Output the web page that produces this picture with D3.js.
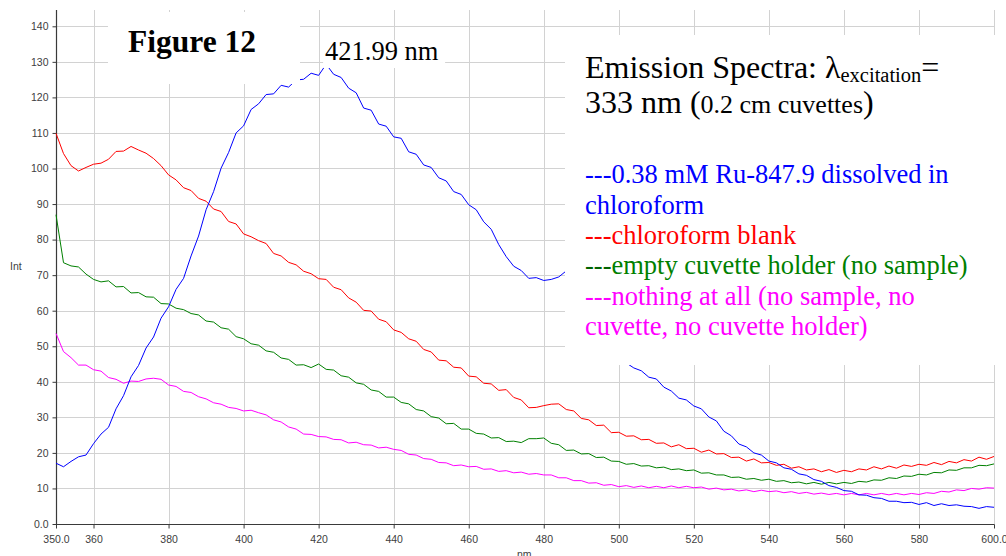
<!DOCTYPE html>
<html>
<head>
<meta charset="utf-8">
<script src="https://cdn.jsdelivr.net/npm/d3@7"></script>
<style>
  html, body { margin: 0; padding: 0; background: #fff; }
  svg { display: block; }
</style>
</head>
<body>
<svg id="chart" width="1006" height="556"></svg>
<script>
// Emission wavelengths (nm), 2 nm steps
const wavelengths = [
  350,352,354,356,358,360,362,364,366,368,
  370,372,374,376,378,380,382,384,386,388,
  390,392,394,396,398,400,402,404,406,408,
  410,412,414,416,418,420,422,424,426,428,
  430,432,434,436,438,440,442,444,446,448,
  450,452,454,456,458,460,462,464,466,468,
  470,472,474,476,478,480,482,484,486,488,
  490,492,494,496,498,500,502,504,506,508,
  510,512,514,516,518,520,522,524,526,528,
  530,532,534,536,538,540,542,544,546,548,
  550,552,554,556,558,560,562,564,566,568,
  570,572,574,576,578,580,582,584,586,588,
  590,592,594,596,598,600
];

// 0.38 mM Ru-847.9 in chloroform (null where the trace is not recorded on screen)
const ruSample = [
  17.1,16.1,17.6,18.9,19.4,22.6,25.3,27.2,32.4,36.1,
  41.4,44.6,49.5,52.6,57.9,61.1,66.0,69.1,75.4,81.0,
  88.4,93.5,100.1,104.5,110.0,112.0,116.6,118.2,120.8,121.0,
  123.4,122.9,124.9,125.1,126.8,126.2,129.3,126.5,125.6,122.6,
  121.3,117.0,116.4,112.5,111.9,108.9,108.5,104.7,104.0,101.0,
  100.3,97.4,96.5,93.5,92.7,89.8,88.4,85.0,82.9,78.6,
  75.2,72.5,71.3,69.1,69.3,68.5,68.8,69.5,71.2,null,
  null,null,null,null,null,null,45.3,43.9,43.1,41.3,
  40.8,38.5,37.4,35.4,34.9,33.2,32.4,30.1,29.0,26.1,
  24.8,22.5,21.7,20.0,19.4,17.7,17.2,15.8,15.4,14.1,
  13.7,12.5,12.0,10.8,10.3,9.4,9.2,8.2,8.1,7.4,
  7.2,6.4,6.4,6.0,6.1,5.5,6.0,5.2,5.7,5.2,
  5.4,5.0,4.9,4.4,4.9,4.7
];

// chloroform blank
const chloroformBlank = [
  109.9,104.2,100.8,99.3,100.3,101.2,101.5,102.6,104.8,104.9,
  106.2,105.2,104.3,102.8,100.8,98.2,96.8,94.6,93.8,91.6,
  90.8,88.6,87.9,85.1,84.4,81.6,80.8,79.7,78.9,76.1,
  75.4,73.6,72.9,71.1,70.4,69.0,68.8,66.6,65.9,63.6,
  62.4,60.1,59.9,57.6,56.9,54.6,53.9,52.1,51.4,49.1,
  48.4,46.1,45.9,44.1,43.9,41.6,41.4,39.6,39.4,37.6,
  37.8,35.6,34.9,32.7,32.8,33.3,33.7,33.8,32.2,31.8,
  29.7,29.3,27.7,27.8,25.7,25.8,24.7,24.8,23.7,23.8,
  22.7,22.8,21.7,22.3,21.2,21.3,20.2,20.8,19.7,19.8,
  18.7,18.8,17.7,18.3,17.2,17.3,16.5,16.8,15.7,16.1,
  15.2,15.5,14.7,15.3,14.5,15.1,14.7,15.5,15.2,16.1,
  15.5,16.3,15.7,16.6,16.2,16.8,16.5,17.3,16.7,17.6,
  17.2,18.1,17.7,18.8,18.2,19.0
];

// empty cuvette holder (no sample)
const emptyHolder = [
  87.0,73.5,72.6,72.3,70.3,68.8,68.1,68.4,66.7,66.8,
  65.0,65.1,63.9,63.8,62.0,61.9,60.7,60.3,59.2,58.8,
  57.1,56.8,55.2,54.8,52.7,52.1,50.7,50.3,48.7,48.3,
  46.7,46.3,44.7,44.8,44.0,45.0,43.5,43.3,41.7,41.3,
  39.7,39.3,37.7,37.3,35.7,35.7,34.2,33.8,32.2,31.8,
  30.2,29.8,28.2,28.3,26.7,26.7,25.5,25.3,24.2,24.3,
  23.2,23.3,22.9,24.0,24.0,24.2,22.7,22.3,20.7,20.8,
  19.7,19.8,18.7,18.8,17.7,17.6,16.8,17.0,16.3,16.4,
  15.8,16.0,15.3,15.5,15.0,15.2,14.3,14.4,13.8,13.8,
  13.1,13.2,12.6,12.8,12.3,12.6,12.0,12.2,11.6,11.8,
  11.3,11.7,11.2,11.7,11.3,11.7,11.4,12.0,11.8,12.4,
  12.3,13.0,12.8,13.5,13.4,14.0,13.8,14.5,14.4,15.2,
  15.1,15.8,15.8,16.5,16.4,16.9
];

// nothing at all (no sample, no cuvette, no cuvette holder)
const nothingAtAll = [
  53.6,48.5,46.8,44.7,44.7,43.4,43.0,41.2,40.7,39.6,
  40.2,40.1,40.8,41.0,40.7,39.1,38.7,37.3,37.0,35.8,
  35.2,34.1,33.7,32.8,32.5,31.8,32.0,31.3,30.7,29.3,
  28.7,27.3,26.7,25.3,25.2,24.6,24.5,23.8,23.7,22.8,
  23.0,22.3,22.2,21.4,21.6,21.0,20.7,19.6,19.4,18.4,
  18.2,17.3,17.2,16.4,16.6,16.1,16.2,15.4,15.5,14.8,
  15.0,14.4,14.6,14.0,14.2,13.8,13.8,13.0,13.0,12.2,
  12.2,11.5,11.6,10.9,11.1,10.5,10.8,10.3,10.7,10.2,
  10.6,10.2,10.7,10.2,10.6,10.2,10.4,9.8,10.1,9.6,
  9.8,9.3,9.6,9.1,9.5,9.1,9.3,8.8,9.1,8.6,
  8.9,8.4,8.7,8.3,8.6,8.2,8.6,8.2,8.6,8.2,
  8.6,8.2,8.6,8.2,8.6,8.3,8.8,8.6,9.2,9.0,
  9.6,9.4,10.0,9.8,10.2,10.1
];

const seriesNames = ["ruSample", "chloroformBlank", "emptyHolder", "nothingAtAll"];
const seriesColors = ["#0000ff", "#ff0000", "#008000", "#ff00ff"];

// Axis ticks
const yTicks = [0,10,20,30,40,50,60,70,80,90,100,110,120,130,140];
const yTickLabels = ["0.0","10","20","30","40","50","60","70","80","90","100","110","120","130","140"];
const xTicks = [350,360,380,400,420,440,460,480,500,520,540,560,580,600];
const xTickLabels = ["350.0","360","380","400","420","440","460","480","500","520","540","560","580","600.0"];
const xGrid = [360,380,400,420,440,460,480,500,520,540,560,580,600];

const peakNm = 421.99;

const legendLines = [
  [{t: "---0.38 mM Ru-847.9 dissolved in", c: "#0000ff"}],
  [{t: "chloroform", c: "#0000ff"}],
  [{t: "---chloroform blank", c: "#ff0000"}],
  [{t: "---", c: "#006400"}, {t: "empty cuvette holder (no sample)", c: "#008000"}],
  [{t: "---nothing at all (no sample, no", c: "#ff00ff"}],
  [{t: "cuvette, no cuvette holder)", c: "#ff00ff"}]
];

// ---------------------------------------------------------------
const svg = d3.select("#chart");
const W = 1006, H = 556;
const plot = {left: 56, right: 994, top: 10, bottom: 524};

const x = d3.scaleLinear().domain([350, 600]).range([plot.left, plot.right]);
const y = d3.scaleLinear().domain([0, 140]).range([plot.bottom, plot.bottom - 140 * 3.555]);

svg.append("rect").attr("width", W).attr("height", H).attr("fill", "#fff");

// grid
const grid = svg.append("g").attr("stroke", "#d2d2d2").attr("stroke-width", 1).attr("shape-rendering", "crispEdges");
grid.selectAll("line.h").data(yTicks.slice(1)).join("line")
  .attr("x1", plot.left).attr("x2", plot.right)
  .attr("y1", d => Math.round(y(d)) + 0.5).attr("y2", d => Math.round(y(d)) + 0.5);
grid.selectAll("line.v").data(xGrid).join("line")
  .attr("x1", d => Math.round(x(d)) + 0.5).attr("x2", d => Math.round(x(d)) + 0.5)
  .attr("y1", plot.top).attr("y2", plot.bottom);

// axes
const axisColor = "#3a3a3a";
const yAxis = d3.axisLeft(y).tickValues(yTicks).tickFormat((d, i) => yTickLabels[i]).tickSize(4).tickPadding(4);
const xAxis = d3.axisBottom(x).tickValues(xTicks).tickFormat((d, i) => xTickLabels[i]).tickSize(4).tickPadding(7);

const gy = svg.append("g").attr("transform", `translate(${plot.left + 0.5},0)`).call(yAxis);
gy.select(".domain").attr("d", `M0,${plot.top}V${plot.bottom + 0.5}`);
const gx = svg.append("g").attr("transform", `translate(0,${plot.bottom + 0.5})`).call(xAxis);
gx.select(".domain").attr("d", `M${plot.left},0H${plot.right + 0.5}`);

[gx, gy].forEach(g => {
  g.select(".domain").attr("stroke", axisColor).attr("stroke-width", 1.2);
  g.selectAll(".tick line").attr("stroke", axisColor);
  g.selectAll(".tick text").attr("fill", "#404040")
    .style("font-family", "'Liberation Sans', Arial, sans-serif").style("font-size", "10.5px");
});

svg.append("text").attr("x", 10).attr("y", 270).text("Int")
  .attr("fill", "#404040").style("font-family", "'Liberation Sans', Arial, sans-serif").style("font-size", "10.5px");
svg.append("text").attr("x", 517).attr("y", 558).text("nm")
  .attr("fill", "#404040").style("font-family", "'Liberation Sans', Arial, sans-serif").style("font-size", "10.5px");

// spectra
const allSeries = [ruSample, chloroformBlank, emptyHolder, nothingAtAll];
const line = d3.line()
  .defined(d => d[1] !== null)
  .x(d => x(d[0])).y(d => y(d[1]));

// draw the blank traces first, the sample trace last
[3, 2, 1, 0].forEach(i => {
  const pts = wavelengths.map((w, j) => [w, allSeries[i][j]]);
  svg.append("path").datum(pts)
    .attr("class", seriesNames[i])
    .attr("fill", "none").attr("stroke", seriesColors[i]).attr("stroke-width", 1)
    .attr("d", line);
});

// white text boxes laid over the plot
const boxes = [
  {x: 108, y: 12, w: 192, h: 72},
  {x: x(peakNm) - 3, y: 40, w: 122, h: 28},
  {x: 565, y: 35, w: 441, h: 330}
];
svg.selectAll("rect.box").data(boxes).join("rect")
  .attr("class", "box")
  .attr("x", d => d.x).attr("y", d => d.y).attr("width", d => d.w).attr("height", d => d.h)
  .attr("fill", "#fff");

const serif = "'Liberation Serif', 'Times New Roman', serif";

svg.append("text").attr("x", 128).attr("y", 52).text("Figure 12")
  .style("font-family", serif).style("font-weight", "bold").style("font-size", "31.5px").attr("fill", "#000");

svg.append("text").attr("x", x(peakNm) - 1).attr("y", 60).text(`${peakNm} nm`)
  .style("font-family", serif).style("font-size", "26.5px").attr("fill", "#000");

const title1 = svg.append("text").attr("x", 585).attr("y", 77.5)
  .style("font-family", serif).style("font-size", "32px").attr("fill", "#000");
title1.append("tspan").text("Emission Spectra: λ");
title1.append("tspan").text("excitation").style("font-size", "20.5px").attr("dy", 4.5);
title1.append("tspan").text("=").attr("dy", -4.5);

const title2 = svg.append("text").attr("x", 585).attr("y", 113)
  .style("font-family", serif).style("font-size", "32px").attr("fill", "#000");
title2.append("tspan").text("333 nm (");
title2.append("tspan").text("0.2 cm cuvettes").style("font-size", "26px");
title2.append("tspan").text(")");

const legend = svg.append("g").style("font-family", serif).style("font-size", "26.5px");
legendLines.forEach((parts, i) => {
  const t = legend.append("text").attr("x", 585).attr("y", 183.3 + i * 30.35);
  parts.forEach(p => t.append("tspan").text(p.t).attr("fill", p.c));
});
</script>
</body>
</html>
